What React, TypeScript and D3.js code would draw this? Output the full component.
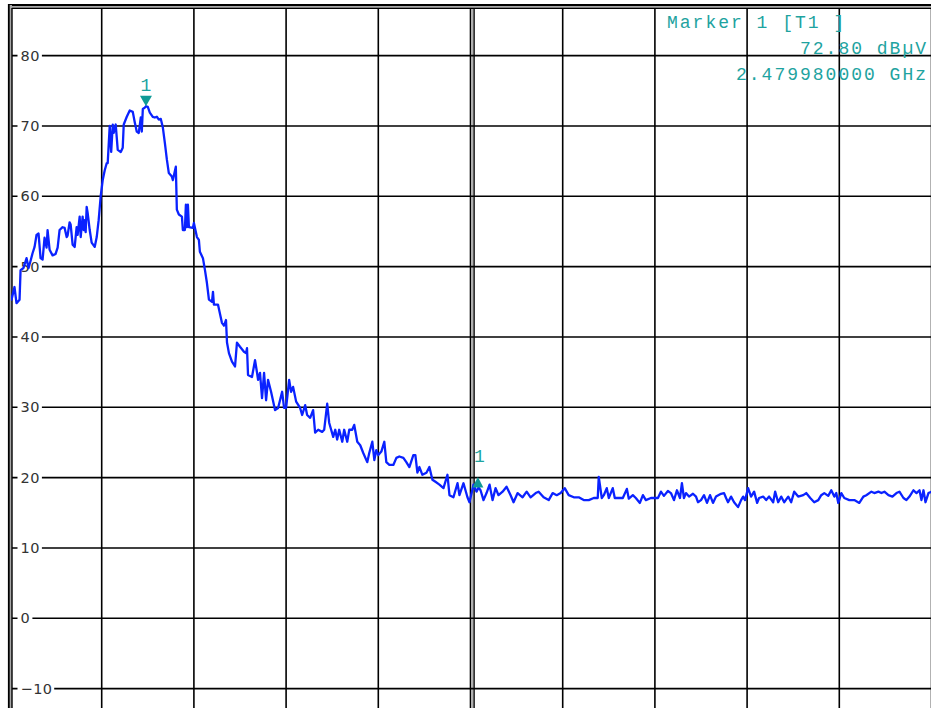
import React from "react"
import { scaleLinear, line, range, format } from "d3"

const W = 931
const H = 708

// sweep settings (10 divisions, 1 MHz/div)
const startMHz = 2478.5
const stopMHz = 2488.5
const yTicks = [80, 70, 60, 50, 40, 30, 20, 10, 0, -10]

// trace readings: [frequency MHz, level dBµV]
const lowerSkirt: [number, number][] = [
  [2478.500, 46.0], [2478.522, 45.3], [2478.554, 47.1], [2478.576, 44.8], [2478.609, 45.3],
  [2478.620, 49.5], [2478.652, 49.8], [2478.685, 51.2], [2478.707, 49.8], [2478.728, 50.8],
  [2478.750, 51.9], [2478.772, 52.8], [2478.793, 54.5], [2478.815, 54.7], [2478.837, 51.2],
  [2478.859, 51.0], [2478.880, 54.1], [2478.902, 52.7], [2478.913, 55.2], [2478.935, 52.4],
  [2478.967, 51.6], [2479.000, 51.8], [2479.022, 52.7], [2479.043, 55.2], [2479.076, 55.6],
  [2479.098, 55.5], [2479.120, 54.2], [2479.130, 54.4], [2479.152, 56.3], [2479.163, 56.0],
  [2479.185, 53.1], [2479.207, 52.8], [2479.228, 55.6], [2479.239, 54.5], [2479.261, 57.1],
  [2479.272, 54.2], [2479.293, 57.1], [2479.304, 55.2], [2479.315, 56.6], [2479.326, 54.9],
  [2479.337, 58.5], [2479.348, 57.6], [2479.370, 55.2], [2479.391, 53.4], [2479.424, 52.8],
  [2479.446, 54.2], [2479.467, 56.6], [2479.489, 60.0], [2479.511, 62.3],
]

const peakRegion: [number, number][] = [
  [2479.533, 63.7], [2479.554, 64.7], [2479.565, 64.7], [2479.587, 70.0], [2479.603, 66.3],
  [2479.620, 70.2], [2479.630, 69.0], [2479.652, 70.2], [2479.674, 66.6], [2479.707, 66.3],
  [2479.728, 66.9], [2479.739, 70.2], [2479.772, 71.3], [2479.804, 72.2], [2479.837, 72.0],
  [2479.859, 70.5], [2479.880, 69.2], [2479.902, 69.0], [2479.924, 71.2], [2479.935, 69.2],
  [2479.946, 72.4], [2479.967, 72.6], [2479.980, 72.8], [2480.000, 72.7], [2480.022, 71.9],
  [2480.054, 71.3], [2480.076, 71.2], [2480.098, 71.3], [2480.120, 70.9], [2480.141, 71.0],
  [2480.163, 69.8], [2480.185, 67.6], [2480.207, 65.2], [2480.228, 63.3], [2480.261, 62.8],
  [2480.272, 62.3], [2480.304, 64.2],
]

const fallingEdge: [number, number][] = [
  [2480.315, 58.1], [2480.337, 57.4], [2480.370, 57.1], [2480.380, 55.2], [2480.402, 55.2],
  [2480.413, 58.8], [2480.424, 55.6], [2480.435, 58.8], [2480.446, 55.6], [2480.489, 55.5],
  [2480.500, 56.2], [2480.533, 54.2], [2480.554, 53.8], [2480.565, 52.1], [2480.598, 51.2],
  [2480.620, 49.5], [2480.641, 47.7], [2480.663, 45.3], [2480.696, 45.0], [2480.707, 46.4],
  [2480.717, 44.6], [2480.761, 44.6], [2480.804, 42.0], [2480.826, 41.6], [2480.848, 42.4],
  [2480.859, 39.2], [2480.880, 37.7], [2480.913, 36.5], [2480.946, 35.8], [2480.967, 39.2],
  [2481.000, 38.6], [2481.043, 37.9], [2481.065, 37.7], [2481.076, 38.4], [2481.087, 34.6],
  [2481.130, 34.3], [2481.163, 36.7], [2481.185, 34.9], [2481.196, 33.9], [2481.217, 34.9],
  [2481.239, 31.3], [2481.261, 34.9], [2481.283, 31.0], [2481.304, 33.9], [2481.337, 32.2],
  [2481.380, 29.6], [2481.413, 29.9], [2481.457, 32.2], [2481.478, 29.9], [2481.500, 29.9],
  [2481.533, 33.9], [2481.554, 32.2], [2481.576, 32.9], [2481.609, 30.8], [2481.652, 29.9],
  [2481.674, 28.9], [2481.707, 30.3], [2481.728, 28.9], [2481.761, 28.5], [2481.793, 29.6],
  [2481.815, 26.4], [2481.848, 26.8], [2481.891, 26.5], [2481.913, 26.8], [2481.946, 30.5],
  [2481.967, 27.8], [2482.011, 25.8], [2482.033, 26.8], [2482.054, 25.4], [2482.076, 26.8],
  [2482.109, 25.1], [2482.130, 26.8], [2482.163, 25.1], [2482.185, 26.8], [2482.217, 26.8],
  [2482.239, 27.5], [2482.272, 25.1], [2482.304, 24.6], [2482.337, 23.5], [2482.380, 22.2],
  [2482.402, 23.5], [2482.435, 25.1], [2482.457, 22.5], [2482.478, 23.9], [2482.500, 23.2],
  [2482.533, 23.7], [2482.565, 25.1], [2482.587, 22.2], [2482.620, 21.8], [2482.663, 21.8],
  [2482.696, 22.8], [2482.728, 23.0], [2482.772, 22.8], [2482.804, 22.2], [2482.837, 21.5],
  [2482.880, 23.2], [2482.902, 23.2], [2482.924, 20.7], [2482.946, 21.5], [2482.978, 20.4],
  [2483.022, 20.7], [2483.054, 21.5], [2483.087, 19.7], [2483.120, 19.4], [2483.163, 19.0],
  [2483.207, 18.5], [2483.250, 20.4], [2483.272, 17.5], [2483.315, 17.2], [2483.359, 19.2],
  [2483.380, 17.5], [2483.424, 19.2], [2483.467, 17.2], [2483.489, 16.5],
]

const noiseFloor: [number, number][] = [
  [2483.533, 19.0], [2483.565, 18.0], [2483.587, 18.6], [2483.609, 18.2], [2483.641, 16.8],
  [2483.674, 17.8], [2483.707, 19.0], [2483.739, 16.8], [2483.772, 18.5], [2483.804, 17.5],
  [2483.848, 18.0], [2483.891, 18.7], [2483.935, 17.5], [2483.967, 16.5], [2484.011, 17.8],
  [2484.065, 17.2], [2484.109, 18.0], [2484.152, 17.2], [2484.207, 17.8], [2484.239, 18.0],
  [2484.293, 17.2], [2484.348, 16.8], [2484.391, 17.8], [2484.435, 17.5], [2484.478, 17.8],
  [2484.522, 18.5], [2484.565, 17.5], [2484.620, 17.2], [2484.674, 17.2], [2484.728, 16.8],
  [2484.783, 16.8], [2484.837, 17.1], [2484.880, 17.1], [2484.891, 20.1], [2484.924, 17.1],
  [2484.946, 17.5], [2484.978, 18.5], [2485.000, 17.1], [2485.043, 18.5], [2485.065, 17.1],
  [2485.109, 17.1], [2485.152, 17.1], [2485.196, 18.4], [2485.217, 17.0], [2485.261, 17.5],
  [2485.293, 17.1], [2485.337, 16.4], [2485.370, 17.5], [2485.402, 16.8], [2485.457, 17.1],
  [2485.533, 17.1], [2485.565, 18.0], [2485.598, 17.4], [2485.641, 18.1], [2485.674, 17.8],
  [2485.707, 16.8], [2485.739, 18.2], [2485.772, 17.1], [2485.793, 19.2], [2485.815, 17.1],
  [2485.837, 17.8], [2485.870, 17.3], [2485.913, 17.7], [2485.946, 17.3], [2485.967, 16.5],
  [2486.000, 16.8], [2486.033, 17.5], [2486.065, 16.4], [2486.098, 17.5], [2486.130, 16.4],
  [2486.163, 17.3], [2486.217, 17.7], [2486.250, 17.8], [2486.272, 17.1], [2486.293, 16.5],
  [2486.326, 17.3], [2486.359, 16.5], [2486.402, 15.8], [2486.435, 16.8], [2486.457, 17.3],
  [2486.478, 16.8], [2486.511, 18.5], [2486.543, 17.3], [2486.576, 18.0], [2486.609, 16.4],
  [2486.630, 17.1], [2486.674, 17.3], [2486.707, 16.8], [2486.739, 17.3], [2486.783, 16.5],
  [2486.804, 18.0], [2486.837, 16.5], [2486.870, 17.3], [2486.902, 16.5], [2486.946, 17.3],
  [2486.978, 16.5], [2487.011, 18.0], [2487.054, 17.3], [2487.109, 17.5], [2487.141, 17.8],
  [2487.185, 17.1], [2487.228, 16.5], [2487.272, 16.8], [2487.304, 17.5], [2487.337, 17.8],
  [2487.380, 17.4], [2487.413, 18.2], [2487.446, 17.3], [2487.467, 17.8], [2487.489, 16.4],
  [2487.522, 17.8], [2487.554, 17.1], [2487.609, 16.8], [2487.663, 16.8], [2487.717, 16.4],
  [2487.761, 17.3], [2487.793, 17.5], [2487.848, 18.0], [2487.880, 17.8], [2487.924, 18.0],
  [2487.957, 17.8], [2487.989, 18.0], [2488.033, 17.5], [2488.076, 17.3], [2488.120, 17.8],
  [2488.152, 18.0], [2488.196, 17.1], [2488.228, 16.8], [2488.261, 17.3], [2488.304, 18.2],
  [2488.337, 17.8], [2488.370, 18.2], [2488.391, 16.8], [2488.413, 18.2], [2488.435, 16.5],
  [2488.467, 17.8], [2488.500, 18.0],
]

const markers = [
  { label: "1", freq: 2479.98, level: 72.8, pointing: "down" },
  { label: "1", freq: 2483.58, level: 18.6, pointing: "up" },
]
const readout = ["Marker 1 [T1 ]", "72.80 dBµV", "2.479980000 GHz"]

const TEAL = "#1ea3a0"
const TRACE = "#0a22ff"
const MONO = "'Courier New', 'Liberation Mono', monospace"

export default function App() {
  const x = scaleLinear().domain([startMHz, stopMHz]).range([9.5, 931.5])
  const y = scaleLinear().domain([-10, 80]).range([688.6, 55.6])

  const trace = [...lowerSkirt, ...peakRegion, ...fallingEdge, ...noiseFloor]
  const path = line<[number, number]>()
    .x((d) => x(d[0]))
    .y((d) => y(d[1]))(trace)

  const divisions = range(0, 11).map((i) => startMHz + (i * (stopMHz - startMHz)) / 10)
  const centre = (startMHz + stopMHz) / 2
  const fmt = format("d")

  const labelWidth = (s: string) =>
    s.split("").reduce((w, c) => w + (c === "−" ? 11.7 : 8.9), 0) + 0.6 * (s.length - 1)

  return (
    <div style={{ position: "absolute", left: 0, top: 0, width: W, height: H, background: "#fff" }}>
      <svg width={W} height={H} style={{ display: "block" }}>
        <defs>
          <clipPath id="plot">
            <rect x={11} y={9} width={W - 11} height={H - 9} />
          </clipPath>
        </defs>

        {/* vertical divisions */}
        {divisions.slice(1).map((f, i) => (
          <line key={i} x1={x(f)} x2={x(f)} y1={8} y2={H} stroke="#000" strokeWidth={1.6} />
        ))}
        {/* double line at centre */}
        <rect x={x(centre) + 0.8} y={8} width={2} height={H} fill="#b0b0b0" />
        <line x1={x(centre) + 3.6} x2={x(centre) + 3.6} y1={8} y2={H} stroke="#000" strokeWidth={1.4} />

        {/* horizontal divisions */}
        {yTicks.map((v) => (
          <line key={v} x1={12} x2={W} y1={y(v)} y2={y(v)} stroke="#000" strokeWidth={1.6} />
        ))}

        {/* frame */}
        <rect x={9} y={5} width={W - 9} height={3.5} fill="#a8a8a8" />
        <line x1={8} x2={W} y1={5} y2={5} stroke="#000" strokeWidth={1.8} />
        <line x1={8} x2={W} y1={8.4} y2={8.4} stroke="#000" strokeWidth={1.4} />
        <rect x={9} y={5} width={3} height={H} fill="#a8a8a8" />
        <line x1={8.8} x2={8.8} y1={4.1} y2={H} stroke="#000" strokeWidth={1.8} />
        <line x1={12} x2={12} y1={8} y2={H} stroke="#000" strokeWidth={1.4} />

        {/* level labels */}
        {yTicks.map((v) => {
          const s = fmt(v)
          return (
            <g key={v}>
              <rect x={17.5} y={y(v) - 3} width={labelWidth(s) + 6} height={6} fill="#fff" />
              <text
                x={20.5}
                y={y(v)}
                dy="0.36em"
                fill="#333"
                fontFamily="'DejaVu Sans', sans-serif"
                fontSize={14.5}
                letterSpacing={0.5}
              >
                {s}
              </text>
            </g>
          )
        })}

        {/* trace */}
        <path d={path ?? ""} fill="none" stroke={TRACE} strokeWidth={2.3} strokeLinejoin="round" clipPath="url(#plot)" />

        {/* markers */}
        {markers.map((m, i) => {
          const mx = x(m.freq)
          const my = y(m.level)
          const tri =
            m.pointing === "down"
              ? `M${mx - 6},${my - 10.5} L${mx + 6},${my - 10.5} L${mx},${my} Z`
              : `M${mx - 5.5},${my} L${mx + 5.5},${my} L${mx},${my - 10.5} Z`
          const ly = m.pointing === "down" ? my - 15.5 : my - 25
          return (
            <g key={i}>
              <path d={tri} fill="#0f9a96" />
              <text
                x={m.pointing === "down" ? mx : mx + 1.5}
                y={ly}
                textAnchor="middle"
                fill={TEAL}
                fontFamily={MONO}
                fontSize={18}
              >
                {m.label}
              </text>
            </g>
          )
        })}

        {/* marker readout */}
        {readout.map((t, i) => (
          <text
            key={i}
            x={i === 0 ? 667 : 928 - t.length * 12.8}
            y={28 + i * 26}
            fill={TEAL}
            fontFamily={MONO}
            fontSize={18}
            letterSpacing={2}
          >
            {t}
          </text>
        ))}
      </svg>
    </div>
  )
}
